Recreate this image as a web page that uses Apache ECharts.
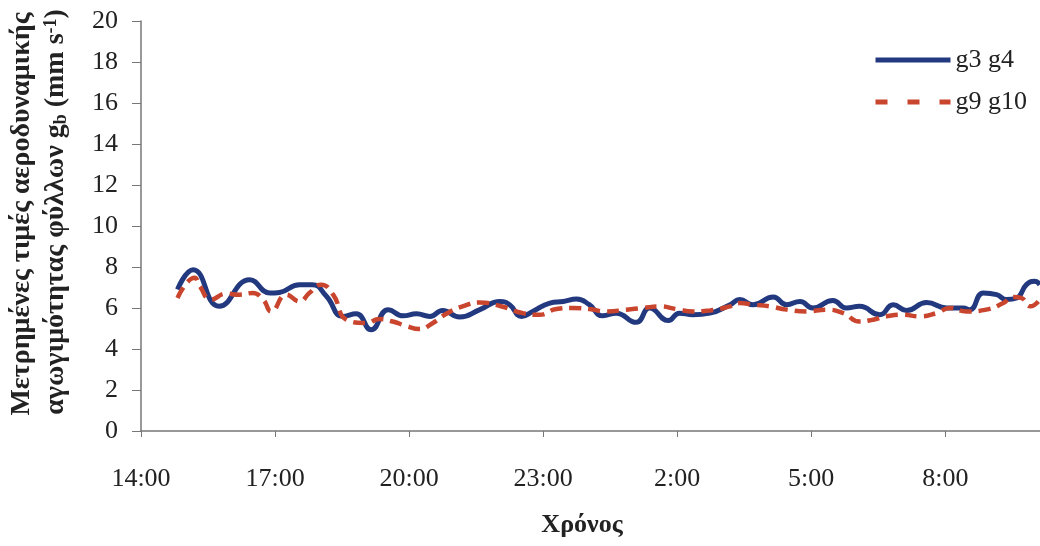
<!DOCTYPE html>
<html>
<head>
<meta charset="utf-8">
<script src="https://cdn.jsdelivr.net/npm/echarts@6/dist/echarts.min.js"></script>
<style>
html,body{margin:0;padding:0;background:#fff;}
#chart{width:1040px;height:546px;}
</style>
</head>
<body>
<div id="chart"></div>
<script>
// ---- data ----
const seriesNames = ['g3 g4', 'g9 g10'];
const xTickLabels = ['14:00', '17:00', '20:00', '23:00', '2:00', '5:00', '8:00'];
const g34Times = ['14:49','15:10','15:45','16:26','16:53','17:06','17:33','17:50','18:09','18:31','18:49','19:09','19:32','19:52','20:10','20:28','20:45','21:08','21:35','22:02','22:15','22:31','22:46','23:09','23:27','23:45','0:02','0:20','0:38','1:05','1:23','1:48','2:03','2:21','2:44','3:11','3:24','3:42','4:09','4:27','4:45','5:02','5:29','5:47','6:05','6:32','6:50','7:08','7:35','8:02','8:24','8:33','8:51','9:09','9:22','9:36','9:49','10:00','10:07'];
const g34Values = [6.9,7.87,6.08,7.38,6.73,6.76,7.14,7.14,6.57,5.59,5.72,4.94,5.92,5.62,5.72,5.59,5.88,5.56,5.92,6.32,6.16,5.59,5.83,6.24,6.32,6.44,6.16,5.62,5.75,5.3,6.0,5.39,5.75,5.67,5.75,6.16,6.41,6.16,6.54,6.16,6.32,6.0,6.37,6.0,6.08,5.67,6.16,5.88,6.27,6.0,6.0,5.92,6.73,6.65,6.41,6.49,7.14,7.3,7.14];
const g910Times = ['14:49','15:12','15:19','15:34','15:54','16:12','16:30','16:44','16:55','17:15','17:33','17:46','18:02','18:18','18:36','19:03','19:20','19:38','19:56','20:14','20:32','20:50','21:12','21:35','22:02','22:33','22:55','23:18','23:40','0:02','0:25','0:52','1:14','1:36','1:59','2:21','2:44','3:11','3:24','3:42','4:04','4:27','4:54','5:20','5:43','6:05','6:23','6:41','7:03','7:26','7:48','8:06','8:28','8:55','9:18','9:31','9:42','9:54','10:05'];
const g910Values = [6.49,7.47,7.06,6.41,6.7,6.65,6.73,6.41,5.83,6.65,6.32,6.73,7.14,6.65,5.43,5.27,5.46,5.34,5.13,4.97,5.27,5.72,6.08,6.27,6.1,5.75,5.67,5.95,6.0,5.95,5.83,5.92,6.0,6.08,5.95,5.83,5.88,6.08,6.24,6.16,6.08,5.92,5.83,5.92,5.75,5.34,5.43,5.59,5.67,5.59,5.75,6.0,5.83,5.92,6.24,6.54,6.49,6.08,6.32];

// hours elapsed since 14:00 on day one
function toH(t) {
  const p = t.split(':');
  let h = parseInt(p[0], 10) + parseInt(p[1], 10) / 60;
  if (h < 14) h += 24;
  return h - 14;
}
function pairs(times, vals) { return times.map((t, i) => [toH(t), vals[i]]); }

const BLUE = '#22397f', RED = '#c9452e';
const FONT = '"Liberation Serif", "Times New Roman", serif';
const chart = echarts.init(document.getElementById('chart'), null, {renderer: 'canvas'});
chart.setOption({
  backgroundColor: '#ffffff',
  animation: false,
  grid: {left: 141, right: 0, top: 21, bottom: 115, containLabel: false},
  legend: {
    orient: 'vertical', left: 868, top: 42,
    itemWidth: 75, itemHeight: 14, itemGap: 16,
    data: [
      {name: seriesNames[0], lineStyle: {color: BLUE, width: 5}},
      {name: seriesNames[1], lineStyle: {color: RED, width: 5, type: [12, 20]}}
    ],
    itemStyle: {opacity: 0},
    textStyle: {fontFamily: FONT, fontSize: 26, color: '#222'}
  },
  xAxis: {
    type: 'value', min: 0, max: 20.12, interval: 3,
    axisLine: {lineStyle: {color: '#777', width: 1.5}},
    axisTick: {show: true, length: 6, lineStyle: {color: '#777'}},
    splitLine: {show: false},
    axisLabel: {
      margin: 35, fontFamily: FONT, fontSize: 26, color: '#222',
      showMaxLabel: false,
      formatter: function (v) {
        const i = Math.round(v / 3);
        return (Math.abs(v - i * 3) < 1e-6 && xTickLabels[i]) ? xTickLabels[i] : '';
      }
    }
  },
  yAxis: {
    type: 'value', min: 0, max: 20, interval: 2,
    axisLine: {show: true, lineStyle: {color: '#777', width: 1.5}},
    axisTick: {show: true, length: 9, lineStyle: {color: '#777'}},
    splitLine: {show: false},
    axisLabel: {margin: 23, fontFamily: FONT, fontSize: 26, color: '#222'}
  },
  graphic: [
    {type: 'text', x: 582, y: 525,
     style: {text: 'Χρόνος', fontFamily: FONT, fontSize: 26, fontWeight: 'bold', fill: '#222', align: 'center', verticalAlign: 'middle'}},
    {type: 'text', x: 22, y: 214, rotation: Math.PI / 2,
     style: {text: 'Μετρημένες τιμές αεροδυναμικής', fontFamily: FONT, fontSize: 28, fontWeight: 'bold', fill: '#222', align: 'center', verticalAlign: 'middle'}},
    {type: 'text', x: 56, y: 212, rotation: Math.PI / 2,
     style: {
       text: '{m|αγωγιμότητας φύλλων g}{sub|b}{m| (mm s}{sup|-1}{m|)}',
       align: 'center', verticalAlign: 'middle', fill: '#222',
       fontFamily: FONT, fontSize: 28, fontWeight: 'bold',
       rich: {
         m: {fontFamily: FONT, fontSize: 28, fontWeight: 'bold', fill: '#222', color: '#222'},
         sub: {fontFamily: FONT, fontSize: 18, fontWeight: 'bold', fill: '#222', color: '#222', verticalAlign: 'bottom', padding: [6, 0, 0, 0]},
         sup: {fontFamily: FONT, fontSize: 18, fontWeight: 'bold', fill: '#222', color: '#222', verticalAlign: 'top', padding: [0, 0, 8, 0]}
       }
     }}
  ],
  series: [
    {
      name: seriesNames[0], type: 'line', data: pairs(g34Times, g34Values),
      smooth: 0.5, symbol: 'none', z: 3,
      lineStyle: {color: BLUE, width: 5},
      itemStyle: {color: BLUE}
    },
    {
      name: seriesNames[1], type: 'line', data: pairs(g910Times, g910Values),
      smooth: 0.5, symbol: 'none', z: 4,
      lineStyle: {color: RED, width: 4.5, type: [12, 7]},
      itemStyle: {color: RED}
    }
  ]
});
</script>
</body>
</html>
